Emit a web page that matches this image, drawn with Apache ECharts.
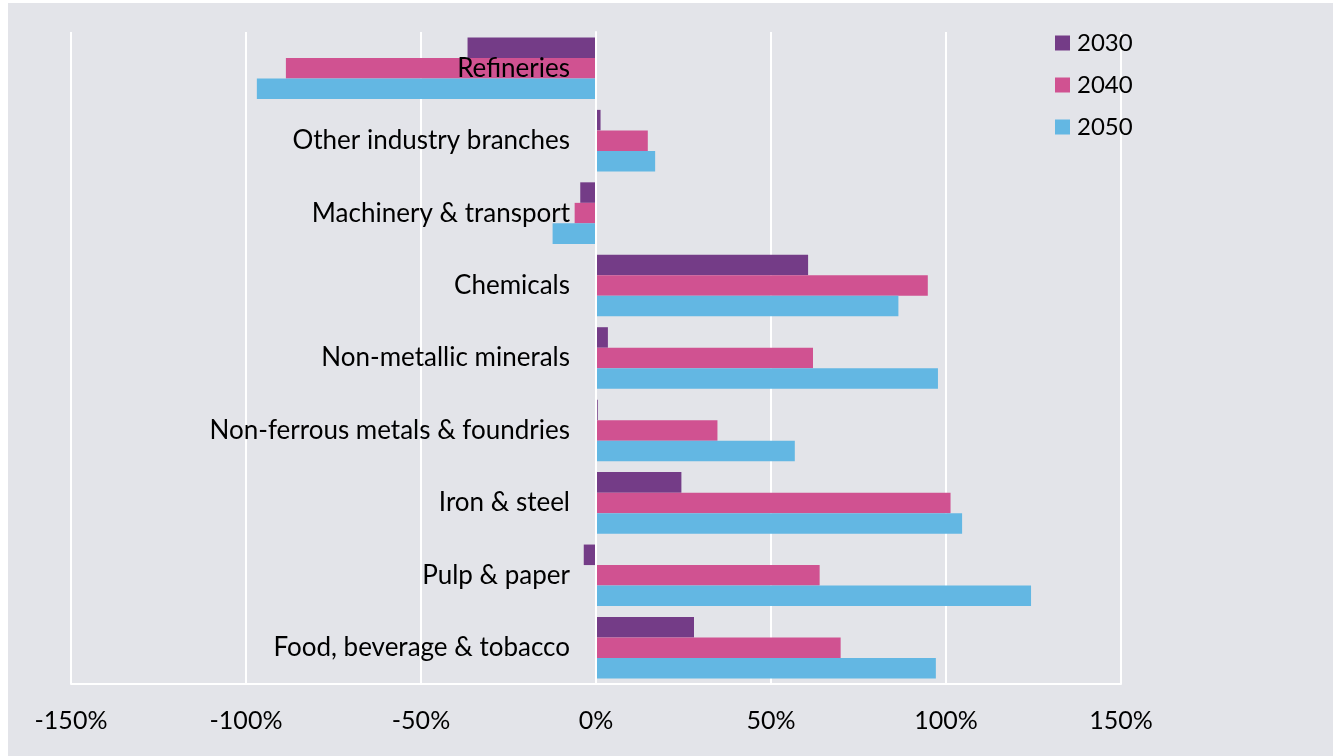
<!DOCTYPE html>
<html>
<head>
<meta charset="utf-8">
<script src="https://cdn.jsdelivr.net/npm/echarts@6/dist/echarts.min.js"></script>
<style>
  html, body { margin: 0; padding: 0; background: #ffffff; width: 1333px; height: 756px; overflow: hidden; }
  #chart { position: absolute; left: 8px; top: 3px; width: 1325px; height: 753px; background: #e3e4e9; }
</style>
</head>
<body>
<div id="chart"></div>
<script>
// Industry branches, listed top to bottom
const categories = [
  'Refineries',
  'Other industry branches',
  'Machinery & transport',
  'Chemicals',
  'Non-metallic minerals',
  'Non-ferrous metals & foundries',
  'Iron & steel',
  'Pulp & paper',
  'Food, beverage & tobacco'
];

// Change relative to base year, in percent
const values2030 = [-36.7, 1.3, -4.5, 60.6, 3.4, 0.5, 24.4, -3.5, 28.0];
const values2040 = [-88.6, 14.8, -6.1, 94.8, 62.0, 34.7, 101.3, 63.9, 69.9];
const values2050 = [-96.9, 16.9, -12.4, 86.4, 97.7, 56.8, 104.6, 124.3, 97.1];

const xTicks = [-150, -100, -50, 0, 50, 100, 150];

const colors = ['#743c87', '#d05291', '#63b7e3'];
const FONT = 'Lato, "Open Sans", sans-serif';

// Plot area geometry (container pixels)
const GRID = { left: 63, right: 212, top: 29, bottom: 72 };
const PLOT_W = 1325 - GRID.left - GRID.right;
const xMin = xTicks[0];
const xMax = xTicks[xTicks.length - 1];
// shift the category axis from the left edge to the 0% line
const zeroOffset = -PLOT_W * (0 - xMin) / (xMax - xMin);

const chart = echarts.init(document.getElementById('chart'));

const makeSeries = (name, data, color) => ({
  name,
  type: 'bar',
  data,
  barGap: '0%',
  barCategoryGap: '15%',
  itemStyle: { color },
  emphasis: { disabled: true }
});

chart.setOption({
  animation: false,
  color: colors,
  textStyle: { fontFamily: FONT },
  grid: Object.assign({ containLabel: false, outerBoundsMode: 'none' }, GRID),
  legend: {
    orient: 'vertical',
    left: 1042,
    top: 23,
    itemWidth: 15,
    itemHeight: 15,
    itemGap: 18,
    icon: 'rect',
    textStyle: { fontFamily: FONT, fontSize: 24, color: '#000', lineHeight: 24, padding: [0, 0, 0, 2] },
    data: ['2030', '2040', '2050']
  },
  xAxis: {
    type: 'value',
    min: xMin,
    max: xMax,
    interval: 50,
    axisLine: { show: true, lineStyle: { color: '#ffffff', width: 2 } },
    axisTick: { show: false },
    splitLine: { show: true, lineStyle: { color: '#ffffff', width: 2 } },
    axisLabel: {
      margin: 24,
      fontFamily: FONT,
      fontSize: 25,
      color: '#000',
      formatter: v => v + '%'
    }
  },
  yAxis: {
    type: 'category',
    data: categories,
    inverse: true,
    z: 10,
    offset: zeroOffset,
    axisLine: { show: true, onZero: false, lineStyle: { color: '#ffffff', width: 2 } },
    axisTick: { show: false },
    splitLine: { show: false },
    axisLabel: {
      margin: 26,
      fontFamily: FONT,
      fontSize: 26,
      color: '#000'
    }
  },
  series: [
    makeSeries('2030', values2030, colors[0]),
    makeSeries('2040', values2040, colors[1]),
    makeSeries('2050', values2050, colors[2])
  ]
});
</script>
</body>
</html>
